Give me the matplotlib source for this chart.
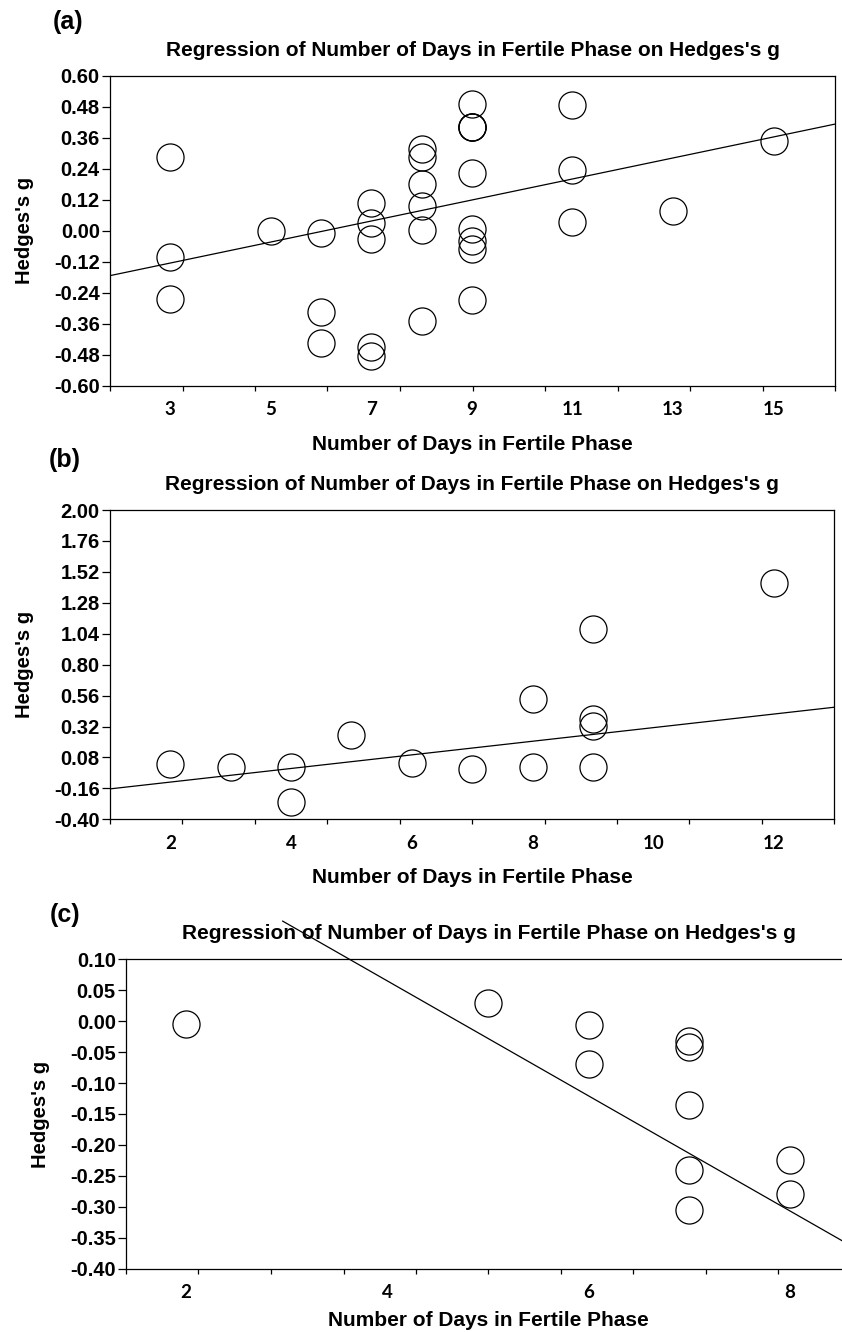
import matplotlib
matplotlib.use("Agg")
import matplotlib.pyplot as plt
import numpy as np

plt.rcParams['font.family'] = ['Liberation Sans', 'DejaVu Sans']
plt.rcParams['font.weight'] = 'bold'

# ---------------- data ----------------
title = "Regression of Number of Days in Fertile Phase on Hedges's g"
xlabel = "Number of Days in Fertile Phase"
ylabel = "Hedges's g"
panel_tags = ["(a)", "(b)", "(c)"]

# panel (a)
a_days = [3, 3, 3, 5, 6, 6, 6, 7, 7, 7, 7, 7, 8, 8, 8, 8, 8, 8,
          9, 9, 9, 9, 9, 9, 9, 9, 9, 11, 11, 11, 13, 15]
a_g = [0.286, -0.103, -0.266, 0.000, -0.010, -0.314, -0.436,
       0.108, 0.028, -0.031, -0.452, -0.485,
       0.315, 0.284, 0.180, 0.097, 0.003, -0.350,
       0.489, 0.400, 0.400, 0.400, 0.222, 0.005, -0.040, -0.072, -0.268,
       0.485, 0.235, 0.034, 0.076, 0.348]
a_xlim = (1.807, 16.22)
a_ylim = (-0.60, 0.60)
a_yticks = [-0.60, -0.48, -0.36, -0.24, -0.12, 0.00, 0.12, 0.24, 0.36, 0.48, 0.60]
a_xticklabels = [3, 5, 7, 9, 11, 13, 15]
a_reg = (-0.2475, 0.0407)          # intercept, slope
a_reg_x = a_xlim

# panel (b)
b_days = [2, 3, 4, 4, 5, 6, 7, 8, 8, 9, 9, 9, 9, 12]
b_g = [0.027, 0.009, 0.004, -0.268, 0.255, 0.037, -0.009,
       0.531, 0.009, 1.074, 0.379, 0.324, 0.009, 1.431]
b_xlim = (1.0, 13.0)
b_ylim = (-0.40, 2.00)
b_yticks = [-0.40, -0.16, 0.08, 0.32, 0.56, 0.80, 1.04, 1.28, 1.52, 1.76, 2.00]
b_xticklabels = [2, 4, 6, 8, 10, 12]
b_reg = (-0.2168, 0.0528)
b_reg_x = b_xlim

# panel (c)
c_days = [2, 5, 6, 6, 7, 7, 7, 7, 7, 8, 8]
c_g = [-0.005, 0.030, -0.007, -0.069, -0.032, -0.042, -0.135,
       -0.241, -0.305, -0.224, -0.279]
c_xlim = (1.404, 8.604)
c_ylim = (-0.40, 0.10)
c_yticks = [-0.40, -0.35, -0.30, -0.25, -0.20, -0.15, -0.10, -0.05, 0.00, 0.05, 0.10]
c_xticklabels = [2, 4, 6, 8]
c_reg = (0.437, -0.093)
c_reg_x = (2.96, 8.604)

# ---------------- layout ----------------
W, H = 842, 1332
fig = plt.figure(figsize=(W / 100, H / 100), dpi=100)


def box(l, t, r, b):
    return [l / W, 1 - b / H, (r - l) / W, (b - t) / H]


panels = [
    dict(days=a_days, g=a_g, xlim=a_xlim, ylim=a_ylim, yticks=a_yticks,
         xtl=a_xticklabels, reg=a_reg, regx=a_reg_x,
         box=(110, 75.7, 835, 385.7), tag=(68, 22), ylab_x=24, xlab_gap=64,
         clip=True),
    dict(days=b_days, g=b_g, xlim=b_xlim, ylim=b_ylim, yticks=b_yticks,
         xtl=b_xticklabels, reg=b_reg, regx=b_reg_x,
         box=(110, 510, 834.3, 819.3), tag=(65, 460), ylab_x=24, xlab_gap=64,
         clip=True),
    dict(days=c_days, g=c_g, xlim=c_xlim, ylim=c_ylim, yticks=c_yticks,
         xtl=c_xticklabels, reg=c_reg, regx=c_reg_x,
         box=(126, 959.3, 851, 1268.6), tag=(65, 915), ylab_x=40, xlab_gap=57,
         clip=False),
]

for p, tag in zip(panels, panel_tags):
    l, t, r, b = p['box']
    ax = fig.add_axes(box(l, t, r, b))
    ax.plot(p['days'], p['g'], linestyle='none', marker='o', ms=19.5,
            mfc='none', mec='black', mew=0.9)
    xr = np.array(p['regx'])
    ax.plot(xr, p['reg'][0] + p['reg'][1] * xr, color='black', lw=0.9,
            clip_on=p['clip'])
    ax.set_xlim(*p['xlim'])
    ax.set_ylim(*p['ylim'])
    for s in ax.spines.values():
        s.set_linewidth(0.9)
    # y axis
    ax.set_yticks(p['yticks'])
    ax.set_yticklabels([f"{v:.2f}" for v in p['yticks']])
    ax.tick_params(axis='y', direction='out', length=5.8, width=0.9,
                   pad=1.5, labelsize=14.5)
    for lab in ax.get_yticklabels():
        lab.set_fontweight('bold')
    # x axis: label positions and separate tick marks
    ax.set_xticks(p['xtl'])
    ax.set_xticklabels([str(v) for v in p['xtl']],
                       fontfamily=['Lato', 'DejaVu Sans'], fontweight='bold')
    ax.tick_params(axis='x', which='major', length=0, pad=11, labelsize=13.5)
    ax.set_xticks(np.linspace(p['xlim'][0], p['xlim'][1], 11), minor=True)
    ax.tick_params(axis='x', which='minor', direction='out', length=3.6,
                   width=0.9)
    # title
    fig.text(((l + r) / 2) / W, 1 - (t - 20) / H, title, ha='center',
             va='baseline', fontsize=15, fontweight='bold')
    # x label
    fig.text(((l + r) / 2) / W, 1 - (b + p['xlab_gap']) / H, xlabel,
             ha='center', va='baseline', fontsize=15, fontweight='bold')
    # y label
    fig.text(p['ylab_x'] / W, 1 - ((t + b) / 2) / H, ylabel, rotation=90,
             ha='center', va='center', fontsize=14.5, fontweight='bold')
    # panel tag
    fig.text(p['tag'][0] / W, 1 - p['tag'][1] / H, tag, ha='center',
             va='center', fontsize=18, fontweight='bold')

fig.savefig("out.png", dpi=100)
